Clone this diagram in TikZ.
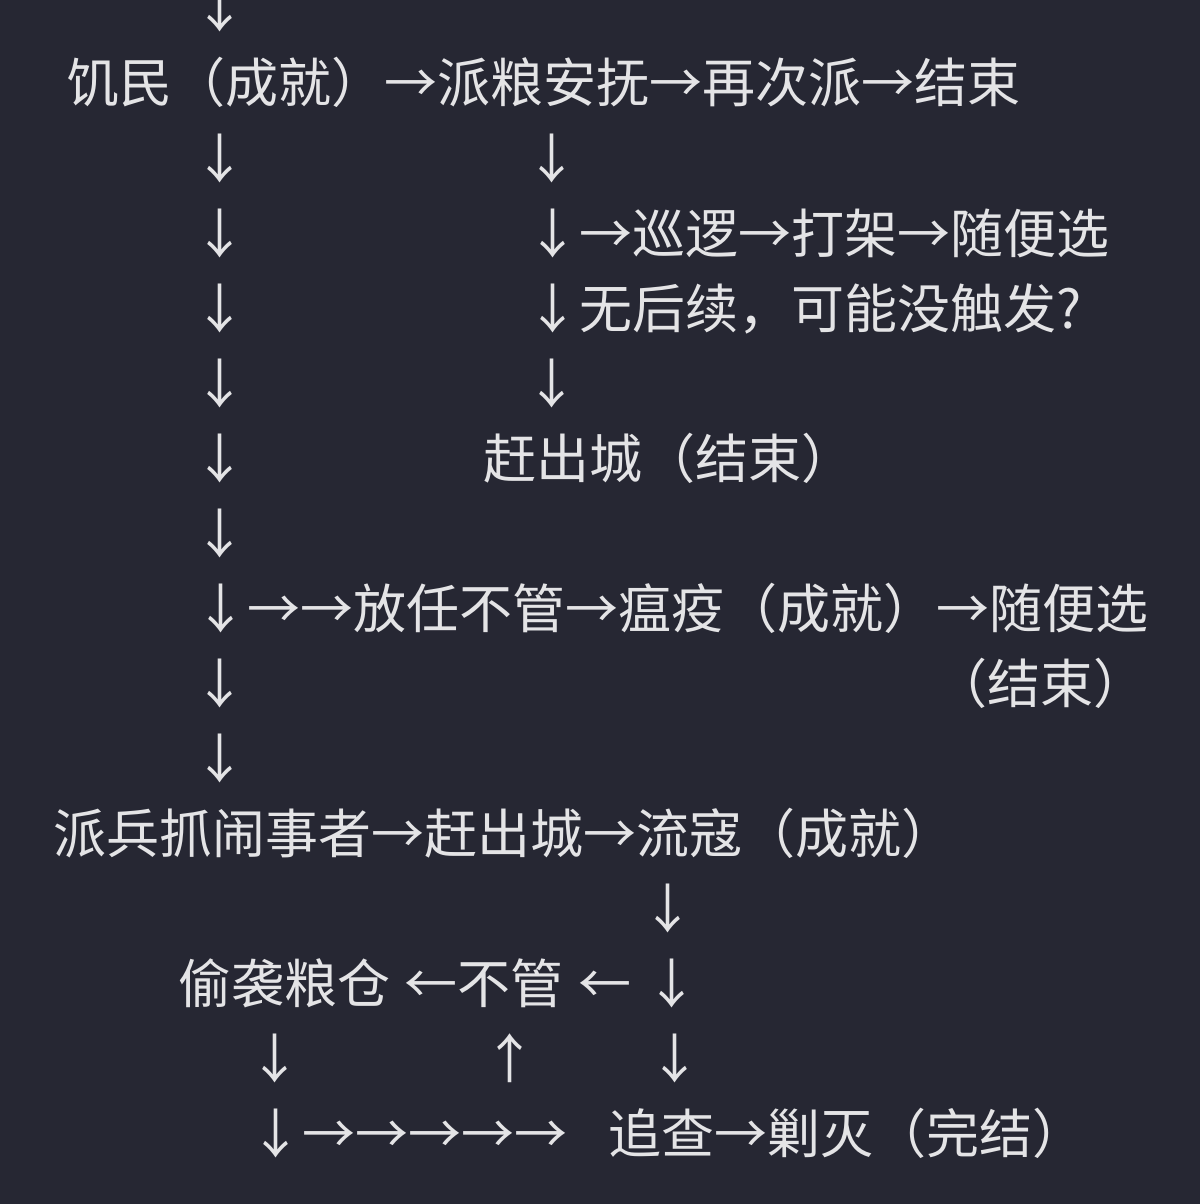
\documentclass[tikz,border=0pt]{standalone}
\usepackage{fontspec}
\newfontfamily\cjk{Noto Sans CJK SC}
\definecolor{bg}{HTML}{262733}
\definecolor{fg}{HTML}{E4E4E6}
\tikzset{
  row/.style={anchor=base west, inner sep=0pt, text=fg, font=\cjk\fontsize{53}{60}\selectfont},
  arr/.style={anchor=base, inner sep=0pt, text=fg, font=\cjk\fontsize{53}{60}\selectfont}
}
\begin{document}
\begin{tikzpicture}[x=1pt, y=-1pt]
    \fill[bg] (0,0) rectangle (1200,1204);
    \useasboundingbox (0,0) rectangle (1200,1204);
    \node[arr] (a0) at (220,28) {↓};
    \node[row] (hunger) at (66,103) {饥民（成就）→派粮安抚→再次派→结束};
    \node[arr] (a2l) at (220,178) {↓};
    \node[arr] (a2r) at (552,178) {↓};
    \node[arr] (a3l) at (220,253) {↓};
    \node[row] (patrol) at (526,253) {↓→巡逻→打架→随便选};
    \node[arr] (a4l) at (220,328) {↓};
    \node[row] (none) at (526,328) {↓无后续，可能没触发?};
    \node[arr] (a5l) at (220,403) {↓};
    \node[arr] (a5r) at (552,403) {↓};
    \node[arr] (a6l) at (220,478) {↓};
    \node[row] (expel) at (483,478) {赶出城（结束）};
    \node[arr] (a7l) at (220,553) {↓};
    \node[row] (plague) at (194,628) {↓→→放任不管→瘟疫（成就）→随便选};
    \node[arr] (a9l) at (220,703) {↓};
    \node[row] (plagueend) at (934,703) {（结束）};
    \node[arr] (a10l) at (220,778) {↓};
    \node[row] (troops) at (53,853) {派兵抓闹事者→赶出城→流寇（成就）};
    \node[arr] (a12) at (668,928) {↓};
    \node[row] (raid) at (178,1003) {偷袭粮仓};
    \node[row] (ignore) at (404,1003) {←不管};
    \node[row] (back) at (578,1003) {←};
    \node[arr] (a13) at (672,1003) {↓};
    \node[arr] (a14l) at (275,1078) {↓};
    \node[arr] (a14m) at (510,1078) {↑};
    \node[arr] (a14r) at (675,1078) {↓};
    \node[row] (chase) at (249,1153) {↓→→→→→};
    \node[row] (wipe) at (608,1153) {追查→剿灭（完结）};
\end{tikzpicture}
\end{document}
